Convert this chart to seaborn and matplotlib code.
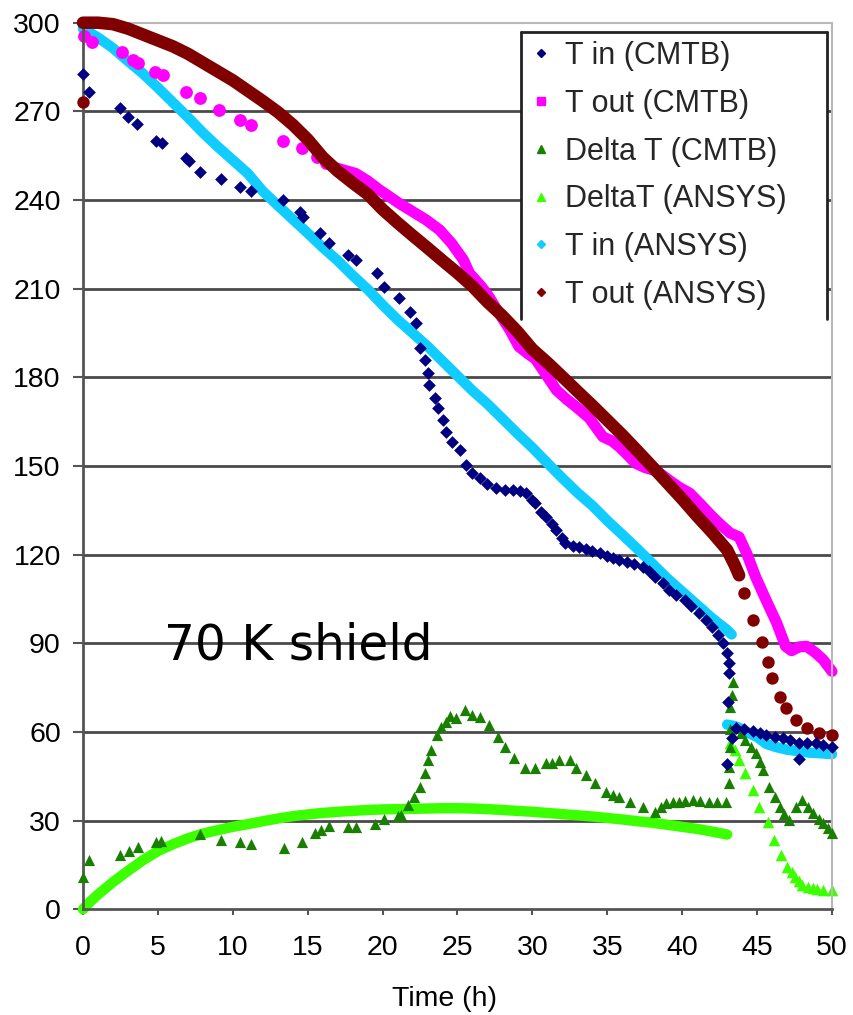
import matplotlib
matplotlib.use("Agg")
import matplotlib.pyplot as plt
import seaborn as sns
from matplotlib.lines import Line2D

# ---------------- data ----------------
x_ticks = [0, 5, 10, 15, 20, 25, 30, 35, 40, 45, 50]
y_ticks = [0, 30, 60, 90, 120, 150, 180, 210, 240, 270, 300]
x_label = "Time (h)"
annotation = "70 K shield"
legend_labels = ["T in (CMTB)", "T out (CMTB)", "Delta T (CMTB)",
                 "DeltaT (ANSYS)", "T in (ANSYS)", "T out (ANSYS)"]

# T in (CMTB)
tin_cmtb_t = [0, 0.42, 2.47, 3.0, 3.6, 4.9, 5.25, 6.9, 7.1, 7.8, 9.2, 10.5, 11.2, 13.35,
              14.5, 14.7, 15.8, 16.4, 17.7, 18.2, 19.6, 20.1, 21.1, 21.8, 22.2, 22.5,
              22.8, 23.0, 23.1, 23.5, 23.7, 24.0, 24.2, 24.6, 25.2, 25.6, 26.0, 26.5,
              27.0, 27.6, 28.2, 28.7, 29.2, 29.6, 30.0, 30.2, 30.6, 30.9, 31.3, 31.6,
              32.0, 32.2, 32.7, 33.1, 33.6, 34.0, 34.5, 35.0, 35.4, 35.8, 36.3, 36.8,
              37.4, 37.8, 38.2, 38.7, 39.1, 39.6, 40.2, 40.6, 41.1, 41.6, 42.0, 42.4,
              42.7, 43.0, 43.1, 43.1, 43.05, 43.0, 43.3, 43.6, 44.1, 44.7, 45.2, 45.6,
              46.2, 46.7, 47.2, 47.8, 47.8, 48.3, 48.9, 49.4, 50.0]
tin_cmtb_v = [282.6, 276.7, 271.1, 268.2, 265.6, 260.0, 259.2, 254.3, 253.2, 249.6, 247.0,
              244.3, 243.1, 240.0, 235.9, 234.4, 228.8, 225.4, 221.4, 219.7, 215.2, 210.7,
              206.8, 202.2, 198.3, 189.8, 185.9, 181.4, 177.4, 172.9, 169.5, 165.6, 161.6,
              158.2, 155.4, 150.5, 147.5, 145.8, 144.0, 142.5, 142.0, 141.9, 141.5, 140.8,
              138.5, 137.4, 134.5, 132.9, 130.5, 128.4, 125.5, 123.9, 123.0, 122.7, 122.0,
              121.3, 120.5, 119.6, 119.0, 118.2, 117.5, 116.8, 115.9, 114.5, 112.5, 110.3,
              108.1, 106.5, 104.7, 102.5, 100.2, 98.0, 95.6, 92.8, 90.0, 86.6, 83.2, 79.9,
              70.3, 49.0, 58.0, 61.5, 61.0, 60.5, 59.6, 59.0, 58.4, 57.9, 57.2, 56.2, 51.0,
              56.2, 56.2, 55.6, 55.0]

# T out (CMTB): early sparse points and dense later part
tout_cmtb_pts_t = [0.1, 0.6, 2.6, 3.35, 3.7, 4.8, 5.35, 6.9, 7.8, 9.1, 10.5, 11.2, 13.35,
                   14.6, 15.6, 16.2]
tout_cmtb_pts_v = [295.5, 293.5, 290.2, 287.4, 286.3, 283.4, 282.3, 276.7, 274.4, 270.5,
                   267.1, 265.4, 260.0, 257.5, 254.7, 252.4]
tout_cmtb_t = [16.8, 17.5, 18.2, 19.0, 19.8, 20.5, 21.1, 22.0, 22.9, 23.8, 24.6, 25.4, 25.8,
               26.6, 27.1, 27.8, 28.5, 29.1, 29.7, 30.2, 30.9, 31.6, 32.3, 32.9, 33.8, 34.7,
               35.3, 35.8, 36.4, 36.9, 37.5, 38.3, 39.1, 39.8, 40.5, 41.2, 42.0, 42.6, 43.2,
               43.8, 44.3, 44.9, 45.6, 46.3, 46.9, 47.3, 47.8, 48.3, 48.9, 49.4, 50.0]
tout_cmtb_v = [251.0, 250.0, 249.0, 246.5, 243.4, 241.0, 238.9, 236.1, 233.3, 229.9, 225.4,
               219.7, 215.2, 210.7, 207.3, 201.5, 196.0, 190.4, 188.0, 186.2, 181.0, 175.7,
               172.5, 170.1, 166.2, 159.9, 158.5, 156.5, 153.5, 150.9, 149.5, 148.3, 145.3,
               142.8, 140.8, 137.2, 132.9, 130.0, 127.3, 126.0, 120.5, 112.5, 104.6, 97.0,
               89.0, 87.5, 88.8, 89.0, 86.8, 84.5, 80.5]

# Delta T (CMTB)
dt_cmtb_t = [0, 0.42, 2.5, 3.1, 3.7, 4.9, 5.2, 7.8, 9.2, 10.5, 11.2, 13.4, 14.6, 15.5, 15.9,
             16.4, 17.7, 18.2, 19.5, 20.1, 21.0, 21.2, 21.7, 22.1, 22.5, 22.8, 23.0, 23.2,
             23.6, 23.9, 24.2, 24.5, 24.9, 25.5, 26.0, 26.5, 27.1, 27.7, 28.2, 28.8, 29.5,
             30.2, 30.9, 31.3, 31.8, 32.5, 32.9, 33.6, 34.2, 34.9, 35.4, 35.8, 36.5, 37.4,
             38.2, 38.6, 38.9, 39.4, 39.8, 40.2, 40.7, 41.2, 41.8, 42.3, 42.9, 43.1, 43.1,
             43.2, 43.2, 43.2, 43.3, 43.4, 43.6, 43.9, 44.2, 44.6, 44.9, 45.2, 45.4, 45.8,
             46.2, 46.5, 46.8, 47.1, 47.6, 48.0, 48.4, 48.7, 49.1, 49.4, 49.7, 50.0]
dt_cmtb_v = [11.0, 16.7, 18.4, 19.8, 21.2, 22.9, 23.1, 25.5, 23.4, 22.7, 22.1, 20.6, 22.9,
             25.7, 26.8, 28.3, 28.0, 28.0, 28.9, 30.5, 31.6, 31.9, 35.3, 38.1, 41.5, 46.0,
             50.5, 53.9, 59.0, 61.8, 63.5, 65.5, 64.6, 67.4, 65.8, 65.2, 62.4, 58.4, 55.0,
             51.1, 47.7, 47.7, 49.4, 49.5, 50.5, 50.5, 47.7, 45.4, 42.6, 39.8, 38.6, 38.1,
             36.4, 34.7, 33.0, 34.5, 35.9, 36.2, 36.4, 36.6, 37.0, 36.5, 36.4, 36.4, 36.4,
             42.6, 48.3, 55.0, 61.0, 68.6, 72.5, 77.0, 61.8, 59.5, 57.3, 55.0, 52.8, 50.0,
             47.1, 41.5, 38.0, 34.7, 32.2, 30.2, 34.7, 37.0, 34.5, 32.5, 30.5, 29.1, 27.5,
             25.7]

# DeltaT (ANSYS): dense part and sparse tail
dt_ansys_t = [0, 0.5, 1, 2, 3, 4, 5, 6, 7, 8, 9, 10, 11, 12, 13, 14, 15, 16, 17, 18, 19,
              20, 21, 22, 23, 24, 25, 26, 27, 28, 29, 30, 31, 32, 33, 34, 35, 36, 37, 38,
              39, 40, 41, 42, 43]
dt_ansys_v = [0.0, 2.7, 5.0, 9.2, 13.0, 16.6, 19.7, 22.0, 24.0, 25.6, 26.8, 27.9, 28.8,
              29.8, 30.7, 31.5, 32.1, 32.6, 33.0, 33.3, 33.6, 33.8, 33.9, 34.0, 34.1, 34.2,
              34.2, 34.1, 33.9, 33.6, 33.3, 33.0, 32.6, 32.2, 31.8, 31.4, 30.9, 30.4, 29.8,
              29.3, 28.6, 27.9, 27.2, 26.3, 25.3]
dt_ansys_tail_t = [43.2, 43.5, 43.8, 44.2, 44.7, 45.1, 45.7, 46.1, 46.6, 47.0, 47.3, 47.5,
                   47.8, 48.0, 48.4, 48.7, 49.0, 49.4, 50.0]
dt_ansys_tail_v = [56.2, 53.9, 50.5, 46.0, 40.4, 34.7, 29.6, 23.5, 18.4, 14.4, 12.5, 11.0,
                   9.5, 8.2, 7.5, 7.1, 6.8, 6.5, 6.5]

# T in (ANSYS)
tin_ansys_t = [0, 1, 2, 3, 4, 5, 6, 7, 8, 9, 10, 11, 12, 13, 14, 15, 16, 17, 18, 19, 20, 21,
               22, 23, 24, 25, 26, 27, 28, 29, 30, 31, 32, 33, 34, 35, 36, 37, 38, 39, 40,
               41, 42, 43, 43.3]
tin_ansys_v = [298.0, 295.0, 291.4, 287.0, 282.8, 278.0, 273.0, 268.0, 262.8, 258.0, 253.5,
               249.0, 243.0, 238.2, 233.5, 228.8, 224.0, 219.5, 214.5, 209.8, 204.5, 199.5,
               195.0, 190.5, 185.5, 180.5, 175.5, 171.0, 166.0, 161.0, 156.2, 151.0, 145.9,
               141.0, 136.6, 131.5, 126.8, 122.0, 117.0, 112.0, 107.5, 103.0, 98.5, 94.5,
               93.0]
tin_ansys_tail_t = [43.0, 43.5, 44.0, 44.5, 45.0, 45.6, 46.2, 47.0, 47.8, 48.5, 49.2, 50.0]
tin_ansys_tail_v = [62.5, 62.0, 61.0, 59.5, 58.3, 56.0, 55.0, 54.0, 53.5, 53.0, 52.8, 52.5]

# T out (ANSYS): dense part and sparse points
tout_ansys_t = [0, 1, 2, 3, 4, 5, 6, 7, 8, 9, 10, 11, 12, 13, 14, 15, 16, 17, 18, 19, 20,
                21, 22, 23, 24, 25, 26, 27, 28, 29, 30, 31, 32, 33, 34, 35, 36, 37, 38, 39,
                40, 41, 42, 43, 43.5, 43.8]
tout_ansys_v = [300.0, 300.0, 299.5, 298.0, 296.0, 294.0, 292.0, 289.5, 286.5, 283.5, 280.5,
                277.0, 273.5, 269.8, 265.5, 260.5, 254.5, 249.8, 245.8, 242.0, 236.8, 232.3,
                228.0, 223.8, 219.5, 215.3, 210.8, 205.5, 200.8, 195.5, 189.5, 185.0, 180.2,
                175.3, 170.5, 165.5, 160.5, 155.2, 149.8, 144.3, 138.8, 133.0, 127.5, 121.6,
                116.5, 113.0]
tout_ansys_pts_t = [0, 44.1, 44.7, 45.3, 45.7, 46.0, 46.5, 46.9, 47.6, 48.3, 49.1, 50.0]
tout_ansys_pts_v = [273.0, 107.0, 98.0, 90.5, 83.7, 78.3, 72.0, 68.0, 64.0, 61.3, 59.6, 59.0]

# colours
C_NAVY = "#000080"
C_MAGENTA = "#FF00FF"
C_DGREEN = "#187F00"
C_BGREEN = "#3CFF00"
C_CYAN = "#11CCFF"
C_DRED = "#800000"

# ---------------- figure ----------------
sns.set_style("white")
plt.rcParams["font.family"] = ["Liberation Sans", "DejaVu Sans"]

fig = plt.figure(figsize=(8.54, 10.15), dpi=100)
ax = fig.add_axes([83 / 854, 1 - 909.3 / 1015, 749 / 854, 886.6 / 1015])

line_kw = dict(ax=ax, sort=False, estimator=None, legend=False, clip_on=False,
               solid_capstyle="round")
pt_kw = dict(ax=ax, legend=False, clip_on=False, linewidth=0)

# DeltaT (ANSYS)
sns.lineplot(x=dt_ansys_t, y=dt_ansys_v, color=C_BGREEN, lw=7.5, zorder=2, **line_kw)
sns.scatterplot(x=dt_ansys_tail_t, y=dt_ansys_tail_v, color=C_BGREEN, marker="^", s=70,
                zorder=2, **pt_kw)
# Delta T (CMTB)
sns.scatterplot(x=dt_cmtb_t, y=dt_cmtb_v, color=C_DGREEN, marker="^", s=65, zorder=3, **pt_kw)
# T in (ANSYS)
sns.lineplot(x=tin_ansys_t, y=tin_ansys_v, color=C_CYAN, lw=7.5, zorder=2.2, **line_kw)
sns.lineplot(x=tin_ansys_tail_t, y=tin_ansys_tail_v, color=C_CYAN, lw=7.5, zorder=2.2, **line_kw)
# T in (CMTB)
sns.scatterplot(x=tin_cmtb_t, y=tin_cmtb_v, color=C_NAVY, marker="D", s=42, zorder=3, **pt_kw)
# T out (CMTB)
sns.scatterplot(x=tout_cmtb_pts_t, y=tout_cmtb_pts_v, color=C_MAGENTA, marker="o", s=85,
                zorder=2.5, **pt_kw)
sns.lineplot(x=tout_cmtb_t, y=tout_cmtb_v, color=C_MAGENTA, lw=8, zorder=2.5, **line_kw)
# T out (ANSYS)
sns.lineplot(x=tout_ansys_t, y=tout_ansys_v, color=C_DRED, lw=9, zorder=2.8, **line_kw)
sns.scatterplot(x=tout_ansys_pts_t, y=tout_ansys_pts_v, color=C_DRED, marker="o", s=80,
                zorder=2.8, **pt_kw)

# axes styling
ax.set_xlim(0, 50)
ax.set_ylim(0, 300)
ax.set_xticks(x_ticks)
ax.set_yticks(y_ticks)
ax.set_xticklabels([str(v) for v in x_ticks])
ax.set_yticklabels([str(v) for v in y_ticks])
ax.tick_params(axis="y", direction="out", length=7, width=1.5, color="#555555", pad=9,
               labelsize=20.5, labelcolor="black", left=True)
ax.tick_params(axis="x", direction="out", length=4.5, width=1.5, color="#555555", pad=14,
               labelsize=20.5, labelcolor="black", bottom=True)

ax.yaxis.grid(True, color="#4a4a4a", lw=2)
ax.xaxis.grid(False)
ax.set_axisbelow(True)
for gl, v in zip(ax.get_ygridlines(), y_ticks):
    if v in (0, 300):
        gl.set_visible(False)

for side in ("left", "bottom"):
    ax.spines[side].set_color("#555555")
    ax.spines[side].set_linewidth(2)
for side in ("top", "right"):
    ax.spines[side].set_color("#b8b8b8")
    ax.spines[side].set_linewidth(1.5)

ax.set_xlabel(x_label, fontsize=20.5, color="black")
ax.xaxis.set_label_coords(0.483, -0.086)
ax.set_ylabel("")

ax.text(5.4, 84.4, annotation, fontsize=35, family="DejaVu Sans", va="baseline",
        ha="left", color="black", zorder=6)

# legend
handles = [
    Line2D([], [], ls="none", marker="D", ms=4.5, color=C_NAVY),
    Line2D([], [], ls="none", marker="s", ms=6, color=C_MAGENTA),
    Line2D([], [], ls="none", marker="^", ms=6, color=C_DGREEN),
    Line2D([], [], ls="none", marker="^", ms=6, color=C_BGREEN),
    Line2D([], [], ls="none", marker="D", ms=4.5, color=C_CYAN),
    Line2D([], [], ls="none", marker="D", ms=4.5, color=C_DRED),
]
leg = ax.legend(handles, legend_labels, loc="upper left",
                bbox_to_anchor=(0.585, 0.6726, 0.408, 0.317), mode="expand",
                fontsize=22, frameon=True, fancybox=False, borderpad=0.3,
                labelspacing=0.58, handlelength=0.7, handletextpad=0.45,
                borderaxespad=0, framealpha=1)
leg.get_frame().set_facecolor("white")
leg.get_frame().set_edgecolor("none")
leg.set_zorder(10)

fig.canvas.draw()
bb = leg.get_window_extent().transformed(fig.transFigure.inverted())
for xs, ys in [([bb.x0, bb.x0], [bb.y0, bb.y1]),
               ([bb.x0, bb.x1], [bb.y1, bb.y1]),
               ([bb.x1, bb.x1], [bb.y0, bb.y1])]:
    fig.add_artist(Line2D(xs, ys, color="#222222", lw=2, transform=fig.transFigure,
                          zorder=11))

fig.savefig("out.png", dpi=100)
